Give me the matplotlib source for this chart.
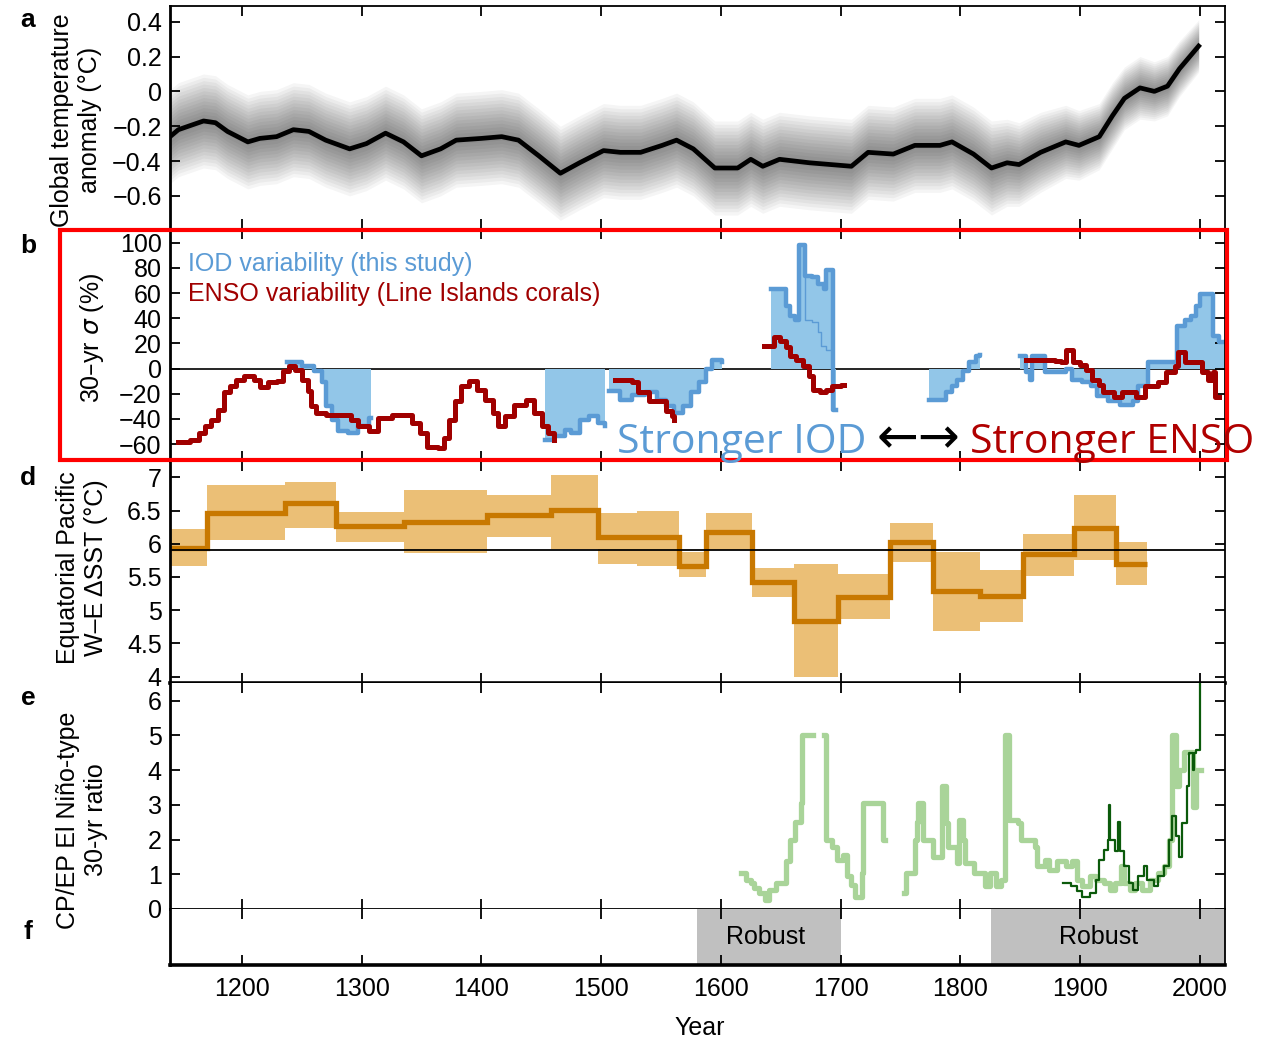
import numpy as np
import matplotlib
matplotlib.use("Agg")
import matplotlib.pyplot as plt
from matplotlib.patches import Rectangle

plt.rcParams['font.family'] = ['Liberation Sans', 'DejaVu Sans']

nan = np.nan

# a: global temperature anomaly (deg C) with spread
temp_years = [1140, 1147, 1168, 1178, 1188, 1205, 1215, 1229, 1243, 1256, 1270, 1290, 1304, 1320,
              1335, 1350, 1366, 1379, 1400, 1417, 1431, 1448, 1466, 1482, 1502, 1516, 1533, 1551,
              1563, 1577, 1595, 1614, 1625, 1635, 1649, 1674, 1709, 1723, 1744, 1762, 1783, 1793,
              1811, 1826, 1839, 1849, 1867, 1888, 1899, 1916, 1927, 1937, 1950, 1962, 1973, 1983, 1999]
temp_vals = [-0.26, -0.22, -0.17, -0.18, -0.23, -0.29, -0.27, -0.26, -0.22, -0.23, -0.28, -0.33, -0.30, -0.24,
             -0.29, -0.37, -0.33, -0.28, -0.27, -0.26, -0.28, -0.37, -0.47, -0.41, -0.34, -0.35, -0.35, -0.31,
             -0.28, -0.33, -0.44, -0.44, -0.39, -0.43, -0.39, -0.41, -0.43, -0.35, -0.36, -0.31, -0.31, -0.29,
             -0.36, -0.44, -0.41, -0.42, -0.35, -0.29, -0.31, -0.26, -0.14, -0.04, 0.02, 0.0, 0.03, 0.13, 0.26]
temp_spread = [0.27] * 44 + [0.25, 0.24, 0.23, 0.21, 0.20, 0.19, 0.19, 0.18, 0.18, 0.17, 0.17, 0.16, 0.15]

# b: 30-yr sigma (%) of IOD and ENSO
iod_years = [1238, 1250, 1260, 1267, 1270, 1275, 1280, 1289, 1297, 1306, 1308, nan,
             1453, 1461, 1470, 1475, 1482, 1490, 1497, 1503, nan,
             1507, 1516, 1526, 1537, 1547, 1554, 1561, 1568, 1575, 1582, 1588, 1593, 1601, nan,
             1642, 1651, 1654, 1658, 1662, 1665, 1670, 1676, 1681, 1686, 1688, 1694, 1696, nan,
             1774, 1788, 1793, 1797, 1802, 1807, 1813, 1816, nan,
             1850, 1855, 1858, 1860, 1867, 1871, 1881, 1888, 1893, 1902, 1909, 1914, 1923, 1933,
             1944, 1948, 1957, 1976, 1981, 1988, 1993, 1997, 2000, 2007, 2011, 2016, 2021]
iod_vals = [5, 2, -2, -11, -30, -41, -50, -51, -46, -39, -39, nan,
            -57, -54, -49, -51, -41, -38, -43, -46, nan,
            -18, -25, -21, -19, -25, -30, -35, -30, -19, -11, 0, 7, 5, nan,
            63, 63, 50, 42, 39, 98, 74, 73, 67, 63, 78, -33, -33, nan,
            -25, -19, -14, -9, -2, 5, 10, 11, nan,
            10, -3, -9, 10, 10, -3, -3, 0, -9, -11, -14, -22, -26, -29,
            -26, -14, 5, 5, 34, 39, 42, 50, 59, 59, 26, 21, 21]
iod_alt_years = [1669, 1670, 1676, 1681, 1684, 1688, 1694]
iod_alt_vals = [98, 39, 37, 29, 18, 15, 15]

enso_years = [1147, 1157, 1164, 1169, 1174, 1180, 1185, 1190, 1195, 1202, 1210, 1215, 1222, 1229, 1234,
              1239, 1244, 1250, 1255, 1258, 1262, 1270, 1280, 1291, 1297, 1306, 1314, 1325, 1335, 1342,
              1349, 1355, 1364, 1369, 1373, 1378, 1383, 1390, 1396, 1403, 1410, 1414, 1420, 1427, 1437,
              1444, 1451, 1456, 1461, nan,
              1512, 1519, 1526, 1531, 1540, 1549, 1554, 1559, 1561, nan,
              1636, 1640, 1644, 1649, 1654, 1658, 1663, 1669, 1674, 1677, 1683, 1688, 1693, 1700, 1703, nan,
              1855, 1872, 1879, 1884, 1888, 1894, 1900, 1905, 1910, 1916, 1919, 1928, 1935, 1947, 1954,
              1965, 1972, 1979, 1982, 1988, 2002, 2007, 2011, 2013, 2016]
enso_vals = [-58, -57, -51, -46, -41, -33, -19, -14, -9, -6, -9, -15, -11, -10, -2,
             2, -1, -9, -18, -30, -35, -37, -37, -41, -46, -50, -39, -37, -37, -43,
             -51, -62, -63, -55, -41, -26, -14, -10, -17, -25, -35, -46, -38, -29, -25,
             -35, -46, -51, -57, nan,
             -9, -9, -11, -19, -26, -26, -34, -38, -41, nan,
             18, 18, 25, 22, 17, 10, 7, 2, -6, -17, -19, -17, -14, -13, -13, nan,
             7, 7, 6, 5, 15, 5, 3, -1, -9, -13, -19, -23, -19, -23, -14,
             -11, -3, 2, 13, 5, -3, -9, -3, -23, -23]

# d: equatorial Pacific W-E SST gradient (deg C)
sst_edges = [1140, 1171, 1236, 1279, 1335, 1405, 1458, 1497, 1530, 1565, 1588, 1626, 1661, 1698,
             1741, 1777, 1816, 1852, 1895, 1930, 1956]
sst_vals = [5.94, 6.47, 6.62, 6.26, 6.33, 6.43, 6.51, 6.10, 6.10, 5.66, 6.17, 5.42, 4.84, 5.20,
            6.02, 5.29, 5.22, 5.85, 6.23, 5.70]
sst_hi = [6.22, 6.88, 6.93, 6.48, 6.81, 6.73, 7.03, 6.47, 6.50, 5.87, 6.46, 5.64, 5.70, 5.54,
          6.31, 5.87, 5.60, 6.15, 6.74, 6.02]
sst_lo = [5.67, 6.06, 6.23, 6.03, 5.86, 6.10, 5.92, 5.70, 5.67, 5.50, 5.90, 5.20, 4.00, 4.87,
          5.72, 4.69, 4.83, 5.52, 5.75, 5.38]
sst_ref = 5.9

# e: CP/EP El Nino-type 30-yr ratio
ratio_years = [1617, 1621, 1625, 1628, 1632, 1637, 1640, 1646, 1654, 1658, 1662, 1667, 1668, 1677,
               1686, 1688, 1693, 1697, 1702, 1705, 1709, 1712, 1718, 1719, 1735, 1737, nan,
               1753, 1755, 1762, 1764, 1765, 1769, 1777, 1785, 1788, 1790, 1797, 1799, 1802, 1804,
               1811, 1821, 1825, 1830, 1834, 1837, 1841, 1848, 1851, 1862, 1864, 1871, 1874, 1881,
               1888, 1893, 1897, 1902, 1908, 1913, 1920, 1925, 1929, 1934, 1937, 1942, 1946, 1952,
               1958, 1965, 1970, 1974, 1977, 1980, 1983, 1987, 1992, 1994, 1997, 2001]
ratio_vals = [1.04, 0.84, 0.75, 0.60, 0.46, 0.27, 0.56, 0.75, 1.37, 2.0, 2.52, 3.05, 5.0, nan,
              5.0, 2.0, 1.8, 1.42, 1.56, 0.94, 0.70, 0.36, 1.04, 3.05, 2.0, 2.0, nan,
              0.46, 1.04, 2.0, 2.52, 3.05, 2.0, 1.51, 3.53, 2.47, 1.8, 1.32, 2.57, 2.0, 1.32,
              1.04, 0.65, 1.04, 0.65, 0.84, 5.0, 2.57, 2.47, 2.0, 1.8, 1.23, 1.42, 1.13, 1.37,
              1.23, 1.37, 0.84, 0.65, 0.94, 0.84, 0.75, 0.56, 0.75, 1.23, 0.75, 0.56, 0.75, 0.56,
              0.84, 1.04, 1.23, 2.0, 5.0, 3.53, 4.0, 4.53, 4.53, 2.95, 4.0, 4.0]
ratio_inst_years = [1886, 1892, 1897, 1902, 1908, 1913, 1916, 1920, 1923, 1924, 1925, 1929, 1932, 1933,
                    1937, 1941, 1944, 1948, 1953, 1956, 1962, 1965, 1970, 1974, 1977, 1980, 1983, 1985,
                    1989, 1991, 1994, 1995, 1997, 2000, 2001]
ratio_inst_vals = [0.75, 0.65, 0.51, 0.36, 0.46, 0.84, 1.42, 1.71, 2.0, 3.0, 2.0, 1.66, 2.52, 1.66,
                   1.23, 0.75, 0.56, 0.94, 1.23, 0.84, 0.65, 0.94, 1.23, 2.0, 2.67, 2.09, 1.51, 2.47,
                   3.53, 4.49, 4.0, 4.49, 4.58, 6.6, 6.6]

# f: robust periods
robust_spans = [(1580, 1700), (1826, 2021)]
robust_text_x = [1637, 1915]

year_ticks = [1200, 1300, 1400, 1500, 1600, 1700, 1800, 1900, 2000]

W, H = 1281, 1043
fig = plt.figure(figsize=(W / 100, H / 100), dpi=100)


def panel(top, bottom):
    return fig.add_axes([170 / W, 1 - bottom / H, (1225 - 170) / W, (bottom - top) / H])


ax_a = panel(6, 229)
ax_b = panel(229, 461)
ax_d = panel(461, 683)
ax_e = panel(683, 909)
ax_f = panel(909, 965)
axes = [ax_a, ax_b, ax_d, ax_e, ax_f]

for ax in axes:
    ax.set_xlim(1140, 2021)
    ax.set_xticks(year_ticks)
    ax.tick_params(direction='in', top=True, right=True, length=7, width=1.3,
                   labelsize=18, pad=6)
    for s in ax.spines.values():
        s.set_linewidth(1.3)
    ax.spines['left'].set_linewidth(2.0)
    if ax is not ax_f:
        ax.tick_params(labelbottom=False)

ax_a.spines['bottom'].set_visible(False)
ax_b.spines['top'].set_visible(False)
ax_b.spines['bottom'].set_visible(False)
ax_d.spines['top'].set_visible(False)
ax_d.spines['bottom'].set_linewidth(2.6)
ax_e.spines['top'].set_visible(False)
ax_f.spines['top'].set_visible(False)
ax_f.spines['bottom'].set_linewidth(2.6)

# a: temperature with layered grey spread
t = np.array(temp_vals)
sp = np.array(temp_spread)
for k in range(14, 0, -1):
    f = k / 14
    ax_a.fill_between(temp_years, t - sp * f, t + sp * f, color='black', alpha=0.038, lw=0)
ax_a.plot(temp_years, temp_vals, color='black', lw=3.4)
ax_a.set_ylim(-0.79, 0.49)
ax_a.set_yticks([-0.6, -0.4, -0.2, 0, 0.2, 0.4])
ax_a.set_yticklabels(['\u22120.6', '\u22120.4', '\u22120.2', '0', '0.2', '0.4'])

# b: IOD and ENSO variability
iod_blue = '#5B9BD5'
ax_b.axhline(0, color='black', lw=1.2, zorder=1)
ax_b.fill_between(iod_years, 0, iod_vals, step='post', color='#92C6E8', lw=0, zorder=1)
ax_b.plot(iod_years, iod_vals, drawstyle='steps-post', color=iod_blue, lw=3.2, zorder=2)
ax_b.plot(iod_alt_years, iod_alt_vals, drawstyle='steps-post', color=iod_blue, lw=1.0, zorder=2)
ax_b.plot(enso_years, enso_vals, drawstyle='steps-post', color='#A00000', lw=3.6, zorder=3)
ax_b.set_ylim(-73.5, 111)
ax_b.set_yticks(range(-60, 101, 20))
ax_b.set_yticklabels([str(v).replace('-', '\u2212') for v in range(-60, 101, 20)])
ax_b.text(0.017, 0.85, 'IOD variability (this study)', color=iod_blue, fontsize=18,
          transform=ax_b.transAxes, va='center')
ax_b.text(0.017, 0.72, 'ENSO variability (Line Islands corals)', color='#A00000', fontsize=18,
          transform=ax_b.transAxes, va='center')

# d: SST gradient with uncertainty boxes
ax_d.stairs(sst_hi, sst_edges, baseline=sst_lo, fill=True, color='#EBBF76', lw=0)
ax_d.axhline(sst_ref, color='black', lw=1.3)
ax_d.stairs(sst_vals, sst_edges, baseline=None, color='#C87800', lw=3.8)
ax_d.set_ylim(3.905, 7.245)
ax_d.set_yticks([4, 4.5, 5, 5.5, 6, 6.5, 7])
ax_d.set_yticklabels(['4', '4.5', '5', '5.5', '6', '6.5', '7'])

# e: CP/EP ratio
ax_e.plot(ratio_years, ratio_vals, drawstyle='steps-post', color='#A9D499', lw=3.8)
ax_e.plot(ratio_inst_years, ratio_inst_vals, drawstyle='steps-post', color='#0B5A0B', lw=1.6)
ax_e.set_ylim(0, 6.51)
ax_e.set_yticks(range(0, 7))

# f: robust periods
for (x0, x1), xt in zip(robust_spans, robust_text_x):
    ax_f.axvspan(x0, x1, color='#C0C0C0', lw=0, zorder=0)
    ax_f.text(xt, 0.5, 'Robust', fontsize=18, ha='center', va='center')
ax_f.set_ylim(0, 1)
ax_f.set_yticks([])
ax_f.tick_params(right=False, left=False, pad=9)

# labels
for lab, yp in zip(['a', 'b', 'd', 'e', 'f'], [20, 246, 478, 698, 932]):
    fig.text(28 / W, 1 - yp / H, lab, fontsize=19, fontweight='bold', ha='center', va='center')

ylab_kw = dict(rotation=90, ha='center', va='center', fontsize=18, linespacing=1.25,
               multialignment='center')
fig.text(76 / W, 1 - 120 / H, 'Global temperature\nanomaly (\u00b0C)', **ylab_kw)
fig.text(92 / W, 1 - 338 / H, '30\u2013yr $\\sigma$ (%)', **ylab_kw)
fig.text(82 / W, 1 - 568 / H, 'Equatorial Pacific\nW\u2013E \u0394SST (\u00b0C)', **ylab_kw)
fig.text(82 / W, 1 - 820 / H, 'CP/EP El Ni\u00f1o-type\n30-yr ratio', **ylab_kw)
fig.text(700 / W, 1 - 1028 / H, 'Year', fontsize=18, ha='center', va='center')

# highlight box and annotation
fig.add_artist(Rectangle((60 / W, 1 - 460 / H), (1227 - 60) / W, 230 / H, fill=False,
                         edgecolor='#FF0000', lw=3, transform=fig.transFigure, zorder=10))
note_kw = dict(va='baseline', family=['Open Sans', 'DejaVu Sans'], zorder=11)
fig.text(617 / W, 1 - 453 / H, 'Stronger IOD', color=iod_blue, fontsize=29.5, **note_kw)
fig.text(877 / W, 1 - 453 / H, '\u2190\u2192', color='black', fontsize=36, **note_kw)
fig.text(970 / W, 1 - 453 / H, 'Stronger ENSO', color='#B00000', fontsize=29.5, **note_kw)

fig.savefig('out.png', dpi=100)
